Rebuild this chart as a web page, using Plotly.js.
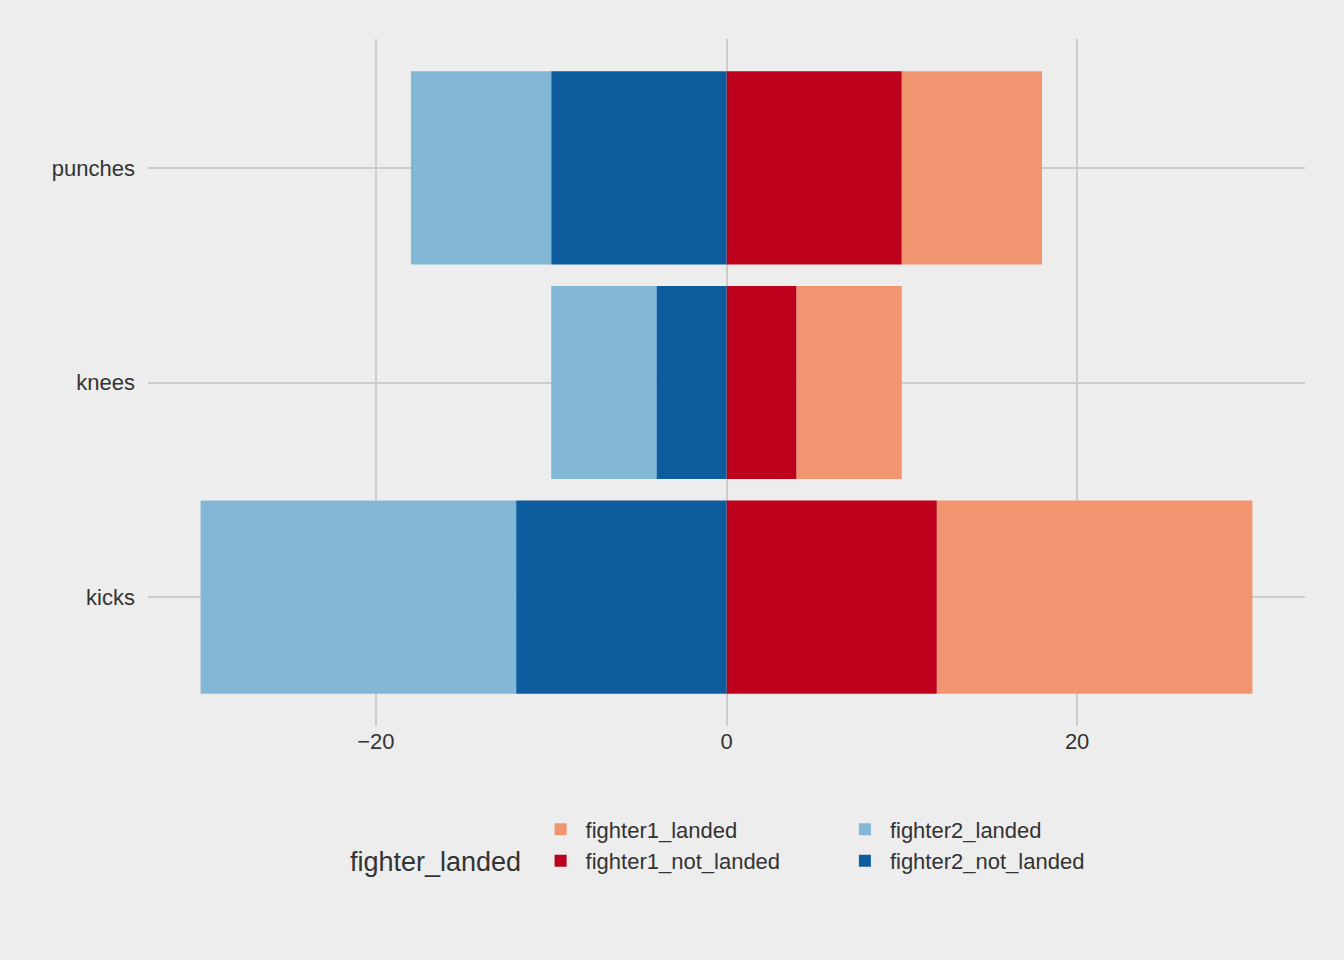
<!DOCTYPE html>
<html>
<head>
<script src="https://cdn.plot.ly/plotly-3.0.1.min.js"></script>
<style>body{margin:0;background:#ededed}</style>
</head>
<body>
<div id="plot" style="width:1344px;height:960px"></div>
<script>
var moves = ["kicks", "knees", "punches"];
var fighter1NotLanded = [12, 4, 10];
var fighter1Landed = [18, 6, 8];
var fighter2NotLanded = [12, 4, 10];
var fighter2Landed = [18, 6, 8];

function neg(ary){
  return ary.map(function(v){ return -v; });
}

var font = {family: 'Liberation Sans, Arial, sans-serif', size: 22, color: '#333333'};

var data = [
  {name: 'fighter1_not_landed', x: fighter1NotLanded, y: moves, marker: {color: '#bd001c'}, legend: 'legend', legendrank: 2},
  {name: 'fighter1_landed', x: fighter1Landed, y: moves, marker: {color: '#f19470'}, legend: 'legend', legendrank: 1},
  {name: 'fighter2_not_landed', x: neg(fighter2NotLanded), y: moves, marker: {color: '#0d5c9e'}, legend: 'legend2', legendrank: 2},
  {name: 'fighter2_landed', x: neg(fighter2Landed), y: moves, marker: {color: '#82b7d6'}, legend: 'legend2', legendrank: 1}
].map(function(t){
  t.type = 'bar'; t.orientation = 'h'; t.width = 0.9; t.hoverinfo = 'x+y+name';
  return t;
});

var legendBase = {
  orientation: 'v', yanchor: 'top', xanchor: 'left', y: -0.12,
  bgcolor: 'rgba(0,0,0,0)', font: font, tracegroupgap: 0, itemwidth: 40
};

var layout = {
  barmode: 'relative',
  paper_bgcolor: '#ededed',
  plot_bgcolor: '#ededed',
  margin: {l: 148, r: 39, t: 39, b: 234},
  font: font,
  xaxis: {range: [-33, 33], tickvals: [-20, 0, 20], gridcolor: '#cccccc', gridwidth: 2,
          zeroline: false, showline: false, ticks: '', tickfont: font},
  yaxis: {range: [-0.6, 2.6], gridcolor: '#cccccc', gridwidth: 2, ticks: '', tickfont: font, ticklabelstandoff: 12},
  legend: Object.assign({}, legendBase, {x: 0.335}),
  legend2: Object.assign({}, legendBase, {x: 0.598}),
  annotations: [{text: 'fighter_landed', xref: 'paper', yref: 'paper', x: 0.324, y: -0.198,
                 xanchor: 'right', yanchor: 'middle', showarrow: false,
                 font: {family: font.family, size: 27, color: '#333333'}}]
};

Plotly.newPlot('plot', data, layout, {displayModeBar: false});
</script>
</body>
</html>
